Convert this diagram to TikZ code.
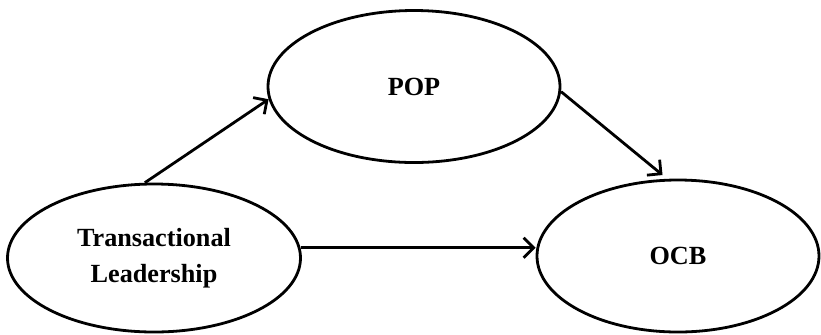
\documentclass[tikz,border=0pt]{standalone}
\usepackage{fontspec}
\setmainfont{Liberation Serif}
\usetikzlibrary{shapes.geometric,arrows.meta}
\tikzset{
>={Straight Barb[length=5pt,width=10pt]},
  construct/.style={
    ellipse,
    draw=black, line width=1.4pt,
    inner sep=0pt,
    align=center,
    font=\fontsize{13.1}{18}\selectfont\bfseries},
  line/.style={draw, line width=1.4pt, ->}
}
\begin{document}
\begin{tikzpicture}
  [x=0.5pt, y=-0.5pt]
  \useasboundingbox (0,0) rectangle (821,334);

  \node[construct, minimum width=146.5pt, minimum height=74pt] (Trans) at (154,258) {Transactional\\Leadership};
  \node[construct, minimum width=146pt, minimum height=76pt] (POP) at (414,86.5) {POP};
  \node[construct, minimum width=141pt, minimum height=76pt] (OCB) at (678,256) {OCB};

  \path[line] (Trans.97) -- (POP.185);
  \path[line, shorten >=3pt] (POP.-2) -- (OCB.98);
  \path[line] (Trans.4) -- (OCB.west |- Trans.4);
\end{tikzpicture}
\end{document}
